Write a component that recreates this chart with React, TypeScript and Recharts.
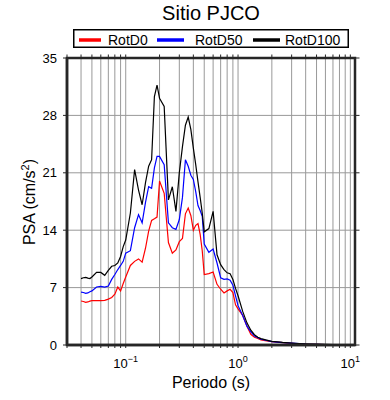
import React from 'react';
import { LineChart, Line, XAxis, YAxis, CartesianGrid, Legend } from 'recharts';

const chartTitle = 'Sitio PJCO';
const xAxisTitle = 'Periodo (s)';
const seriesNames = ['RotD0', 'RotD50', 'RotD100'];
const seriesColors = ['#ff0000', '#0000ff', '#000000'];

const periods = [
  0.04, 0.042, 0.044, 0.046, 0.048, 0.05, 0.055, 0.06, 0.065, 0.07, 0.075, 0.08, 0.085, 0.09, 0.095,
  0.1, 0.11, 0.12, 0.13, 0.14, 0.15, 0.16, 0.17, 0.18, 0.19, 0.2,
  0.22, 0.24, 0.26, 0.28, 0.3, 0.32, 0.34, 0.36, 0.38, 0.4, 0.42, 0.44, 0.46, 0.48, 0.5,
  0.55, 0.6, 0.65, 0.7, 0.75, 0.8, 0.85, 0.9, 0.95, 1.0,
  1.1, 1.2, 1.3, 1.4, 1.5, 1.6, 1.8, 2.0,
  2.5, 3, 3.5, 4, 5, 6, 7, 8, 9, 10,
];

const rotD0 = [
  5.37, 5.3, 5.2, 5.25, 5.35, 5.4, 5.4, 5.4, 5.45, 5.6, 5.8, 6.2, 7.07, 6.6, 7.5,
  8.3, 9.7, 10.2, 10.5, 10.1, 11.8, 13.9, 15.2, 15.4, 15.6, 20.0,
  18.5, 12.5, 11.2, 11.6, 12.6, 13.0, 16.0, 16.7, 15.8, 14.0, 14.6, 14.8, 13.5, 11.5, 8.6,
  8.7, 8.9, 7.4, 6.8, 6.34, 6.6, 6.8, 6.4, 4.9, 4.4,
  3.6, 2.3, 1.3, 0.95, 0.8, 0.62, 0.5, 0.4,
  0.28, 0.2, 0.15, 0.11, 0.08, 0.06, 0.045, 0.035, 0.03, 0.025,
];

const rotD50 = [
  6.45, 6.4, 6.3, 6.35, 6.5, 6.6, 7.07, 7.15, 7.07, 7.2, 8.0, 8.6, 9.2, 9.7, 10.2,
  11.2, 11.5, 14.3, 15.9, 14.9, 17.4, 19.3, 19.1, 21.6, 23.0, 23.0,
  22.0, 14.9, 14.3, 14.1, 15.3, 18.0, 22.6, 21.8, 20.7, 20.2, 18.7, 17.0, 16.4, 15.7, 12.3,
  11.3, 11.7, 10.0, 8.2, 8.0, 8.05, 7.9, 7.3, 6.0, 4.8,
  3.6, 2.3, 1.6, 1.1, 0.9, 0.7, 0.55, 0.42,
  0.3, 0.22, 0.16, 0.12, 0.085, 0.06, 0.05, 0.04, 0.03, 0.025,
];

const rotD100 = [
  8.1, 8.2, 8.25, 8.15, 8.1, 8.3, 8.85, 8.85, 8.5, 9.1, 9.6, 9.7, 10.0, 10.8, 12.0,
  12.8, 16.1, 21.4, 18.9, 17.1, 19.8, 21.8, 22.6, 30.3, 31.7, 30.1,
  29.1, 17.7, 19.3, 16.3, 21.0, 24.2, 26.8, 27.8, 26.3, 24.0, 22.0, 19.9, 18.0, 16.1, 13.8,
  14.2, 16.3, 11.0, 9.8, 9.2, 8.8, 8.7, 8.0, 6.9, 6.0,
  4.1, 2.7, 1.8, 1.25, 0.95, 0.78, 0.6, 0.45,
  0.32, 0.24, 0.18, 0.14, 0.1, 0.07, 0.055, 0.045, 0.035, 0.03,
];

const xDomain = [0.03, 11];
const yDomain = [0, 35];
const xTicks = [
  0.03, 0.04, 0.05, 0.06, 0.07, 0.08, 0.09,
  0.1, 0.2, 0.3, 0.4, 0.5, 0.6, 0.7, 0.8, 0.9,
  1, 2, 3, 4, 5, 6, 7, 8, 9, 10,
];
const xMajorTicks = [0.1, 1, 10];
const xMajorExponents = ['\u22121', '0', '1'];
const yTicks = [0, 7, 14, 21, 28, 35];

const data = periods.map((p, i) => ({
  period: p,
  [seriesNames[0]]: rotD0[i],
  [seriesNames[1]]: rotD50[i],
  [seriesNames[2]]: rotD100[i],
}));

const FONT = '"Liberation Sans", Arial, Helvetica, sans-serif';
const FRAME = '#262626';

const W = 390;
const H = 400;
const PLOT_LEFT = 67;
const PLOT_TOP = 58;
const PLOT_RIGHT = 355;
const PLOT_BOTTOM = 345;

const frameX = (v: number) => {
  const l0 = Math.log10(xDomain[0]);
  const l1 = Math.log10(xDomain[1]);
  return PLOT_LEFT + ((Math.log10(v) - l0) / (l1 - l0)) * (PLOT_RIGHT - PLOT_LEFT);
};
const frameY = (v: number) =>
  PLOT_BOTTOM - ((v - yDomain[0]) / (yDomain[1] - yDomain[0])) * (PLOT_BOTTOM - PLOT_TOP);

const XTick = (props: any) => {
  const { x, y, payload } = props;
  const idx = xMajorTicks.findIndex((v) => Math.abs(v - payload.value) < 1e-9);
  if (idx < 0) return <g />;
  return (
    <text x={x} y={y} dy={18} textAnchor="middle" fontSize={13} fontFamily={FONT} fill="#000">
      <tspan>10</tspan>
      <tspan dy={-6} fontSize={9}>{xMajorExponents[idx]}</tspan>
    </text>
  );
};

const legendLayout = [
  { lx: 6, lw: 22, tx: 35 },
  { lx: 84, lw: 27, tx: 122 },
  { lx: 180, lw: 27, tx: 212 },
];

const renderLegend = (props: any) => {
  const payload = [...(props.payload || [])]
    .filter((e: any) => seriesNames.indexOf(e.value) >= 0)
    .sort((a: any, b: any) => seriesNames.indexOf(a.value) - seriesNames.indexOf(b.value));
  return (
    <svg width={276} height={19} style={{ display: 'block' }}>
      <rect x={0.75} y={0.75} width={274.5} height={17.5} fill="#fff" stroke="#000" strokeWidth={1.5} />
      {payload.map((e: any, i: number) => {
        const l = legendLayout[i] || legendLayout[0];
        return (
          <g key={i}>
            <line x1={l.lx} x2={l.lx + l.lw} y1={11} y2={11} stroke={e.color} strokeWidth={3.5} />
            <text x={l.tx} y={16} fontSize={14} fontFamily={FONT} fill="#000">{e.value}</text>
          </g>
        );
      })}
    </svg>
  );
};

export default function App() {
  return (
    <div style={{ position: 'absolute', left: 0, top: 0, width: W, height: H, background: '#fff' }}>
      <LineChart
        width={W}
        height={H}
        data={data}
        margin={{ top: PLOT_TOP, right: W - PLOT_RIGHT, bottom: 0, left: 0 }}
      >
        <CartesianGrid stroke="#999999" strokeWidth={1} horizontal vertical />
        <XAxis
          dataKey="period"
          type="number"
          scale="log"
          domain={xDomain}
          allowDataOverflow
          ticks={xTicks}
          interval={0}
          height={H - PLOT_BOTTOM}
          tickSize={3}
          tickMargin={2}
          axisLine={{ stroke: FRAME, strokeWidth: 2.5 }}
          tickLine={{ stroke: FRAME }}
          tick={<XTick />}
        />
        <YAxis
          type="number"
          domain={yDomain}
          ticks={yTicks}
          interval={0}
          width={PLOT_LEFT}
          tickSize={4}
          tickMargin={6}
          axisLine={{ stroke: FRAME, strokeWidth: 2.5 }}
          tickLine={{ stroke: FRAME }}
          tick={{ fill: '#000', fontSize: 13, fontFamily: FONT }}
        />
        <Legend
          layout="horizontal"
          verticalAlign="middle"
          align="center"
          wrapperStyle={{ top: 29, left: 73, width: 276, height: 19 }}
          content={renderLegend}
        />
        {seriesNames.map((name, i) => (
          <Line
            key={name}
            type="linear"
            dataKey={name}
            name={name}
            stroke={seriesColors[i]}
            strokeWidth={1.2}
            dot={false}
            activeDot={false}
            isAnimationActive={false}
          />
        ))}
      </LineChart>
      <svg
        width={W}
        height={H}
        style={{ position: 'absolute', left: 0, top: 0, pointerEvents: 'none', zIndex: 10 }}
      >
        {xTicks.map((t) => (
          <line key={'tt' + t} x1={frameX(t)} x2={frameX(t)} y1={PLOT_TOP} y2={PLOT_TOP - 3.5} stroke={FRAME} strokeWidth={1} />
        ))}
        {yTicks.map((t) => (
          <line key={'rt' + t} x1={PLOT_RIGHT} x2={PLOT_RIGHT + 4.5} y1={frameY(t)} y2={frameY(t)} stroke={FRAME} strokeWidth={1} />
        ))}
        <rect
          x={PLOT_LEFT}
          y={PLOT_TOP}
          width={PLOT_RIGHT - PLOT_LEFT}
          height={PLOT_BOTTOM - PLOT_TOP}
          fill="none"
          stroke={FRAME}
          strokeWidth={2.5}
        />
        <text x={211} y={20} textAnchor="middle" fontSize={20} fontFamily={FONT} fill="#000">
          {chartTitle}
        </text>
        <text x={211} y={388} textAnchor="middle" fontSize={16} fontFamily={FONT} fill="#000">
          {xAxisTitle}
        </text>
        <text
          transform="translate(35,202) rotate(-90)"
          textAnchor="middle"
          fontSize={16}
          fontFamily={FONT}
          fill="#000"
        >
          <tspan>PSA (cm/s</tspan>
          <tspan dy={-6} fontSize={11}>2</tspan>
          <tspan dy={6}>)</tspan>
        </text>
      </svg>
    </div>
  );
}
